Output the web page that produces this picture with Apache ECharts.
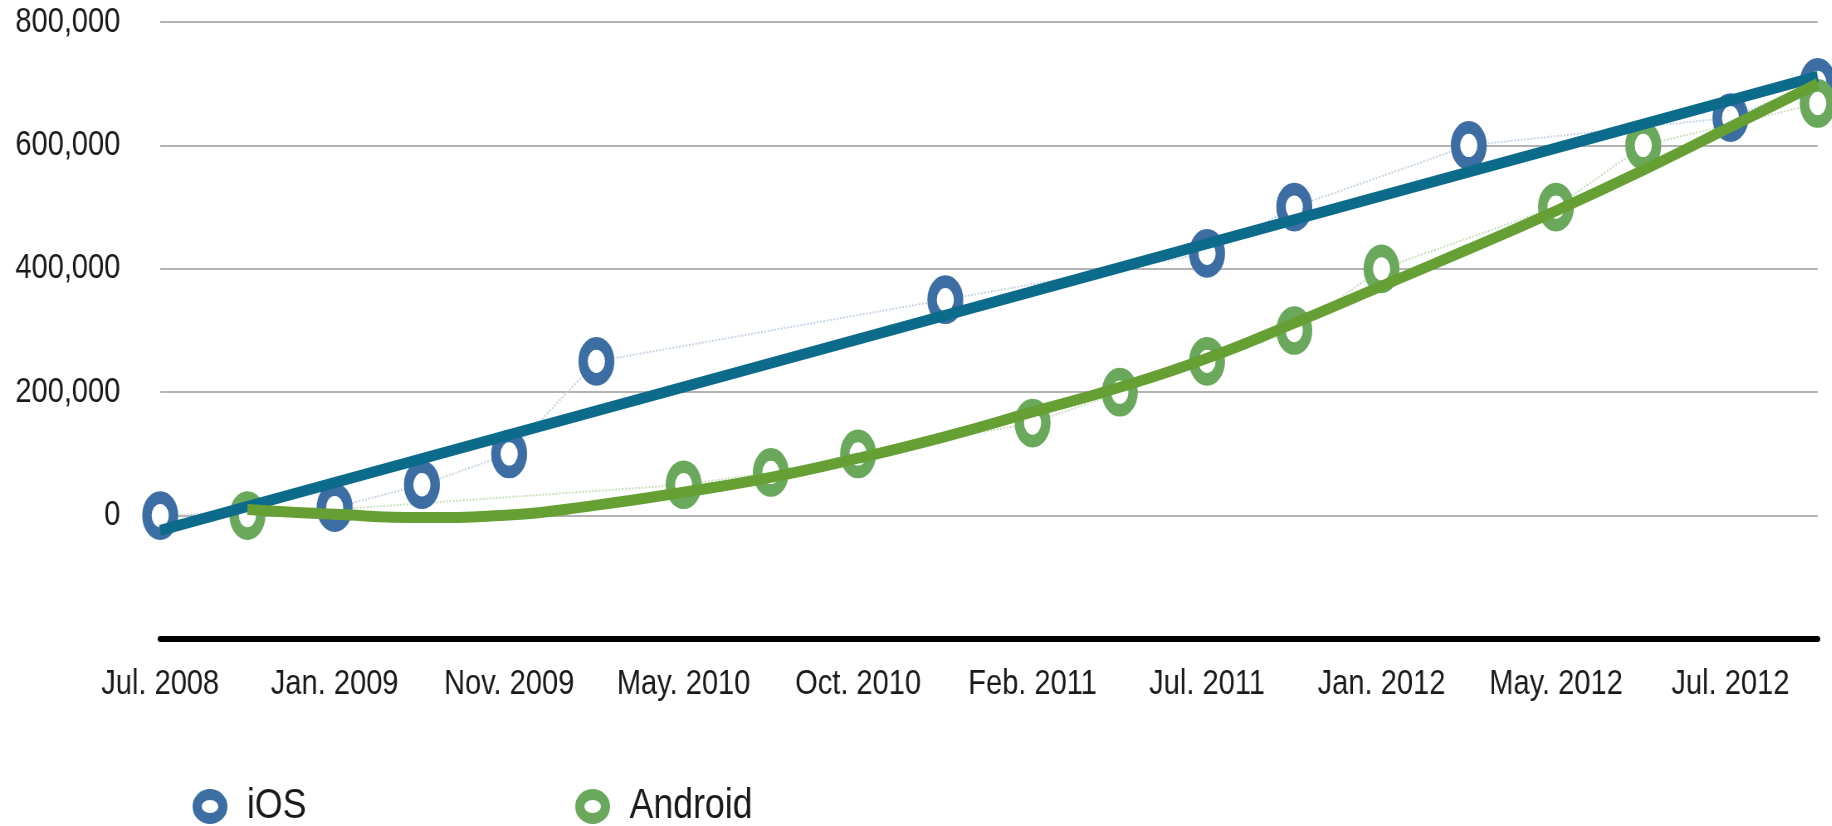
<!DOCTYPE html>
<html>
<head>
<meta charset="utf-8">
<script src="https://cdn.jsdelivr.net/npm/echarts@6/dist/echarts.min.js"></script>
<style>
  html, body { margin: 0; padding: 0; background: #fff; overflow: hidden; }
  /* the original is a horizontally squeezed chart: draw wider, then squeeze */
  #main { width: 2207px; height: 826px; transform: scaleX(0.83); transform-origin: 0 0; }
</style>
</head>
<body>
<div id="main"></div>
<script>
// one category per half step, only every other one is labelled
const months = ['Jul. 2008', '', 'Jan. 2009', '', 'Nov. 2009', '', 'May. 2010', '', 'Oct. 2010', '',
    'Feb. 2011', '', 'Jul. 2011', '', 'Jan. 2012', '', 'May. 2012', '', 'Jul. 2012', ''];

const iosValues = [0, null, 13000, 50000, 100000, 250000, null, null, null, 350000,
    null, null, 425000, 500000, null, 600000, null, null, 645000, 702000];
const androidValues = [null, 0, null, null, null, null, 50000, 70000, 100000, null,
    150000, 200000, 250000, 300000, 400000, null, 500000, 600000, null, 668000];

// trend lines
const iosTrend = [-24000, null, null, null, null, null, null, null, null, null,
    null, null, null, null, null, null, null, null, null, 712000];
const androidTrend = [null, 10000, 2000, -3000, 1000, 17000, 38000, 62000, 93000, 128000,
    168000, 208000, 255000, 312000, 372000, 432000, 494000, 560000, 630000, 700000];

const yTicks = [-200000, 0, 200000, 400000, 600000, 800000];

const FONT = "'Liberation Sans', Arial, Helvetica, sans-serif";
const IOS_MARK = '#3c6ea4', IOS_TREND = '#0c6a8b', IOS_DOT = '#c3d2e3';
const AND_MARK = '#6aa85b', AND_TREND = '#66a034', AND_DOT = '#c6dfb8';
const RING = 'path://M0,-1A1,1 0 1,1 0,1A1,1 0 1,1 0,-1Z';

function pairs(arr) {
    const out = [];
    arr.forEach(function (v, i) { if (v !== null) out.push([i, v]); });
    return out;
}

const chart = echarts.init(document.getElementById('main'));

chart.setOption({
    animation: false,
    backgroundColor: '#fff',
    grid: { left: 193, right: 17, top: 22, bottom: 187 },
    xAxis: {
        type: 'category',
        data: months,
        boundaryGap: false,
        axisLine: { onZero: false, lineStyle: { color: '#000', width: 6 } },
        axisTick: { show: false },
        axisLabel: { interval: 0, margin: 28, fontFamily: FONT, fontSize: 35, color: '#1a1a1a' },
        splitLine: { show: false }
    },
    yAxis: {
        type: 'value',
        min: yTicks[0],
        max: yTicks[yTicks.length - 1],
        interval: yTicks[1] - yTicks[0],
        axisLine: { show: false },
        axisTick: { show: false },
        axisLabel: {
            margin: 48, fontFamily: FONT, fontSize: 35, color: '#1a1a1a',
            formatter: function (v) { return v < 0 ? '' : v.toLocaleString('en-US'); }
        },
        splitLine: { lineStyle: { color: '#b3b3b3', width: 2 } }
    },
    legend: [
        {
            left: 232, top: 785, padding: 0, itemWidth: 31, itemHeight: 24, itemGap: 0,
            icon: RING, symbolKeepAspect: false, selectedMode: false,
            textStyle: { fontFamily: FONT, fontSize: 43, color: '#1a1a1a', padding: [0, 0, 0, 24] },
            data: [{ name: 'iOS', itemStyle: { color: '#fff', borderColor: IOS_MARK, borderWidth: 11, borderType: 'solid' } }]
        },
        {
            left: 693, top: 785, padding: 0, itemWidth: 31, itemHeight: 24, itemGap: 0,
            icon: RING, symbolKeepAspect: false, selectedMode: false,
            textStyle: { fontFamily: FONT, fontSize: 43, color: '#1a1a1a', padding: [0, 0, 0, 24] },
            data: [{ name: 'Android', itemStyle: { color: '#fff', borderColor: AND_MARK, borderWidth: 11, borderType: 'solid' } }]
        }
    ],
    series: [
        {   // thin dotted joins between the points
            name: 'iOS dots', type: 'line', data: pairs(iosValues), symbol: 'none',
            lineStyle: { color: IOS_DOT, width: 2, type: 'dotted' }, silent: true, z: 1
        },
        {
            name: 'Android dots', type: 'line', data: pairs(androidValues), symbol: 'none',
            lineStyle: { color: AND_DOT, width: 2, type: 'dotted' }, silent: true, z: 1
        },
        {
            name: 'iOS', type: 'scatter', data: pairs(iosValues),
            symbol: RING, symbolSize: [32, 36],
            itemStyle: { color: '#fff', borderColor: IOS_MARK, borderWidth: 12, opacity: 1 }, z: 2
        },
        {
            name: 'Android', type: 'scatter', data: pairs(androidValues),
            symbol: RING, symbolSize: [32, 36],
            itemStyle: { color: '#fff', borderColor: AND_MARK, borderWidth: 12, opacity: 1 }, z: 2
        },
        {
            name: 'iOS trend', type: 'line', data: pairs(iosTrend), symbol: 'none',
            lineStyle: { color: IOS_TREND, width: 11 }, silent: true, z: 3
        },
        {
            name: 'Android trend', type: 'line', data: pairs(androidTrend), symbol: 'none', smooth: true,
            lineStyle: { color: AND_TREND, width: 11 }, silent: true, z: 4
        }
    ]
});
</script>
</body>
</html>
